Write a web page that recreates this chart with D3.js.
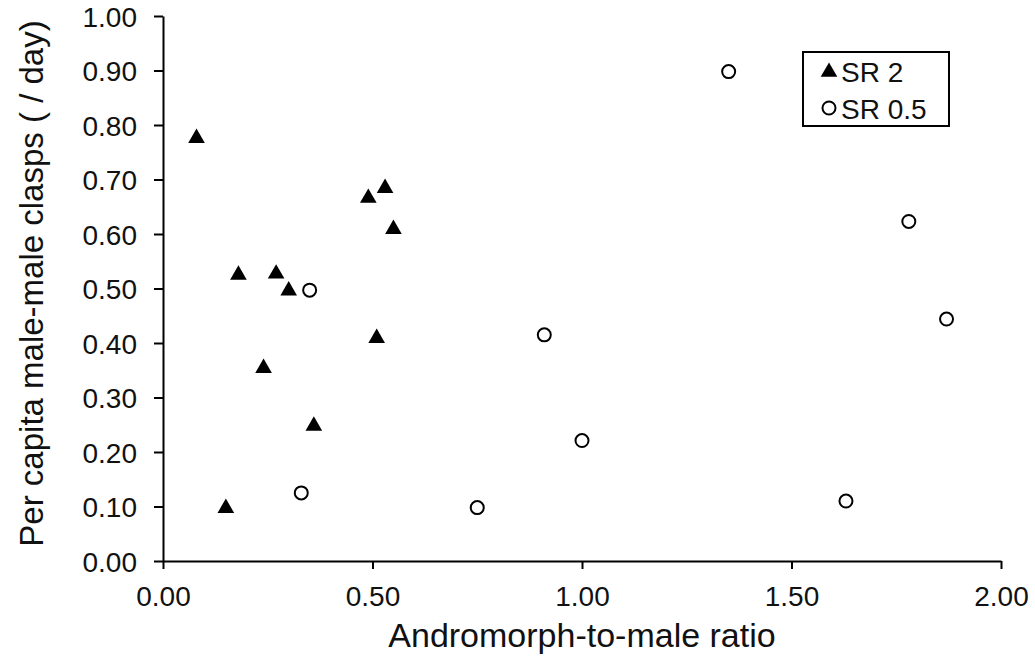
<!DOCTYPE html>
<html lang="en">

<head>
    <meta charset="UTF-8">
    <title>clasps vs andromorph ratio</title>
    <script src="https://cdn.jsdelivr.net/npm/d3@7"></script>
    <style>
        body {
            margin: 0;
            background: #fff;
        }

        text {
            font-family: "Liberation Sans", Arial, sans-serif;
            fill: #111;
        }
    </style>
</head>

<body>
    <svg id="main" width="1035" height="658"></svg>

    <script>
        // SR 2 group (filled triangles)
        let sr2_ratio = [0.08, 0.18, 0.27, 0.30, 0.24, 0.36, 0.15, 0.49, 0.53, 0.55, 0.51]
        let sr2_clasps = [0.776, 0.525, 0.527, 0.496, 0.354, 0.248, 0.097, 0.666, 0.684, 0.609, 0.409]
        // SR 0.5 group (open circles)
        let sr05_ratio = [1.35, 1.78, 1.87, 0.35, 0.91, 1.00, 0.33, 0.75, 1.63]
        let sr05_clasps = [0.898, 0.623, 0.444, 0.497, 0.415, 0.221, 0.125, 0.098, 0.110]

        let x_ticks = [0, 0.5, 1.0, 1.5, 2.0]
        let y_ticks = [0, 0.1, 0.2, 0.3, 0.4, 0.5, 0.6, 0.7, 0.8, 0.9, 1.0]
        let series_names = ["SR 2", "SR 0.5"]

        let svg = d3.select("#main")
        let margin = { left: 163, right: 34, top: 16, bottom: 97 }
        let W = 1035, H = 658

        let x = d3.scaleLinear().domain([0, 2]).range([margin.left, W - margin.right])
        let y = d3.scaleLinear().domain([0, 1]).range([H - margin.bottom, margin.top])

        // axes
        let xAxis = svg.append("g")
            .attr("transform", `translate(0,${H - margin.bottom})`)
            .call(d3.axisBottom(x).tickValues(x_ticks).tickFormat(d3.format(".2f"))
                .tickSizeInner(8).tickSizeOuter(0).tickPadding(17))
        let yAxis = svg.append("g")
            .attr("transform", `translate(${margin.left},0)`)
            .call(d3.axisLeft(y).tickValues(y_ticks).tickFormat(d3.format(".2f"))
                .tickSizeInner(9).tickSizeOuter(0).tickPadding(17))

        svg.selectAll(".domain, .tick line")
            .attr("stroke", "#000")
            .attr("stroke-width", 2)
        svg.selectAll(".tick text")
            .attr("font-size", 28)
            .attr("font-family", "Liberation Sans, Arial, sans-serif")
            .attr("fill", "#111")
        yAxis.selectAll(".tick text").attr("dy", "0.36em")

        // axis titles
        svg.append("text")
            .attr("x", (x(0) + x(2)) / 2)
            .attr("y", 647)
            .attr("text-anchor", "middle")
            .attr("font-size", 34)
            .text("Andromorph-to-male ratio")
        svg.append("text")
            .attr("transform", `translate(43,${(y(0) + y(1)) / 2 - 5}) rotate(-90)`)
            .attr("text-anchor", "middle")
            .attr("font-size", 33)
            .text("Per capita male-male clasps ( / day)")

        // points
        let tri = d3.symbol().type(d3.symbolTriangle).size(120)
        svg.append("g").selectAll("path")
            .data(d3.zip(sr2_ratio, sr2_clasps))
            .join("path")
            .attr("d", tri)
            .attr("transform", d => `translate(${x(d[0])},${y(d[1])})`)
            .attr("fill", "#000")

        svg.append("g").selectAll("circle")
            .data(d3.zip(sr05_ratio, sr05_clasps))
            .join("circle")
            .attr("cx", d => x(d[0]))
            .attr("cy", d => y(d[1]))
            .attr("r", 6.5)
            .attr("fill", "#fff")
            .attr("stroke", "#000")
            .attr("stroke-width", 2)

        // legend
        let lg = svg.append("g").attr("transform", "translate(803,52)")
        lg.append("rect")
            .attr("width", 146).attr("height", 74)
            .attr("fill", "#fff").attr("stroke", "#000").attr("stroke-width", 2)
        lg.append("path").attr("d", tri).attr("transform", "translate(26,20)").attr("fill", "#000")
        lg.append("circle").attr("cx", 26).attr("cy", 56).attr("r", 6.5)
            .attr("fill", "#fff").attr("stroke", "#000").attr("stroke-width", 2)
        lg.selectAll("text.lab")
            .data(series_names)
            .join("text")
            .attr("class", "lab")
            .attr("x", 38)
            .attr("y", (d, i) => 30 + i * 37)
            .attr("font-size", 28)
            .text(d => d)
    </script>

</body>

</html>
